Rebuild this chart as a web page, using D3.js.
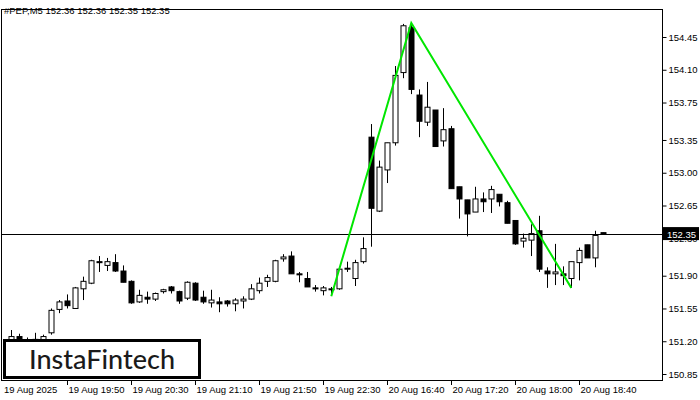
<!DOCTYPE html>
<html>
<head>
<meta charset="utf-8">
<script src="https://cdn.jsdelivr.net/npm/d3@7"></script>
<style>
  body { margin: 0; background: #fff; }
  svg { display: block; font-family: "Liberation Sans", Arial, sans-serif; }
</style>
</head>
<body>
<svg width="700" height="400"></svg>
<script>
// OHLC candles, M5
const opens  = [151.15,151.25,151.18,151.20,151.21,151.29,151.54,151.63,151.55,151.76,151.82,152.05,152.01,152.04,151.95,151.84,151.62,151.67,151.65,151.73,
                151.78,151.73,151.66,151.82,151.67,151.61,151.62,151.63,151.60,151.63,151.65,151.74,151.84,151.84,152.08,152.11,151.92,151.87,151.77,151.74,
                151.75,151.76,151.97,151.87,152.05,153.38,152.59,153.03,153.32,154.07,154.55,153.83,153.54,153.67,153.34,153.47,152.85,152.71,152.58,152.72,
                152.72,152.77,152.68,152.49,152.27,152.28,152.38,151.95,151.92,151.92,151.87,152.04,152.23,152.09,152.36]
const highs  = [151.32,151.28,151.24,151.29,151.27,151.55,151.64,151.70,151.78,151.89,152.07,152.11,152.09,152.13,152.01,151.85,151.75,151.73,151.72,151.76,
                151.79,151.74,151.84,151.83,151.74,151.75,151.67,151.64,151.66,151.68,151.81,151.88,151.91,152.07,152.13,152.16,151.94,151.94,151.80,151.79,
                151.78,151.98,152.05,152.07,152.31,153.52,153.13,153.32,154.14,154.59,154.60,153.89,153.97,153.67,153.69,153.50,152.85,152.71,152.85,152.79,
                152.86,152.77,152.70,152.49,152.35,152.45,152.54,151.99,152.24,152.00,152.05,152.20,152.23,152.38,152.36]
const lows   = [151.10,151.12,151.10,151.15,151.18,151.27,151.50,151.55,151.55,151.64,151.81,151.94,151.95,151.94,151.83,151.60,151.61,151.60,151.63,151.71,
                151.71,151.60,151.64,151.63,151.60,151.56,151.51,151.57,151.52,151.55,151.64,151.71,151.78,151.83,152.05,151.92,151.83,151.78,151.73,151.69,
                151.69,151.75,151.94,151.79,152.03,152.21,152.58,152.89,153.29,154.01,153.84,153.38,153.50,153.28,153.28,152.83,152.51,152.32,152.58,152.58,
                152.57,152.64,152.46,152.23,152.20,152.11,151.94,151.77,151.80,151.80,151.77,151.85,152.09,151.99,152.35]
const closes = [151.25,151.18,151.20,151.22,151.25,151.53,151.62,151.58,151.77,151.84,152.06,152.04,152.05,151.95,151.83,151.61,151.69,151.65,151.71,151.75,
                151.74,151.63,151.83,151.64,151.62,151.64,151.60,151.60,151.64,151.65,151.76,151.82,151.88,152.06,152.10,151.92,151.91,151.78,151.76,151.77,
                151.76,151.97,151.98,152.04,152.19,152.62,153.06,153.32,154.04,154.57,153.89,153.55,153.70,153.28,153.46,152.83,152.72,152.56,152.72,152.69,
                152.82,152.69,152.46,152.24,152.30,152.35,151.97,151.92,151.94,151.90,152.05,152.17,152.09,152.33,152.35]

// pattern: start, peak, end (candle index, price)
const patternIdx = [40, 50, 70]
const patternPrice = [151.68, 154.60, 151.77]

const yTicks = [154.45, 154.10, 153.75, 153.35, 153.00, 152.65, 152.30, 151.90, 151.55, 151.20, 150.85]
const timeTickIdx = [0, 7, 15, 23, 31, 39, 47, 55, 63, 71]
const timeLabels = ['19 Aug 2025', '19 Aug 19:50', '19 Aug 20:30', '19 Aug 21:10', '19 Aug 21:50',
                    '19 Aug 22:30', '20 Aug 16:40', '20 Aug 17:20', '20 Aug 18:00', '20 Aug 18:40']
const lastPrice = 152.35

const plotL = 1, plotR = 662, plotT = 9, plotB = 380
const FS = 9.5

const svg = d3.select('svg')
const data = opens.map((o, i) => ({ i, o, h: highs[i], l: lows[i], c: closes[i] }))

const x = d3.scaleLinear().domain([0, 1]).range([11.3, 19.3])
const y = d3.scaleLinear().domain([154.45, 150.85]).range([37, 374])

const plot = svg.append('g')

// candles
const g = plot.selectAll('g.c').data(data).enter().append('g')
g.append('line')
  .attr('x1', d => Math.round(x(d.i)) + 0.5).attr('x2', d => Math.round(x(d.i)) + 0.5)
  .attr('y1', d => y(d.h)).attr('y2', d => y(d.l))
  .attr('stroke', '#000').attr('stroke-width', 1)
g.append('rect')
  .attr('x', d => Math.round(x(d.i)) - 2)
  .attr('width', 5)
  .attr('y', d => y(Math.max(d.o, d.c)))
  .attr('height', d => Math.max(1, Math.abs(y(d.o) - y(d.c))))
  .attr('fill', d => d.c >= d.o ? '#fff' : '#000')
  .attr('stroke', '#000').attr('stroke-width', 1)

// current price line
plot.append('line')
  .attr('x1', plotL).attr('x2', plotR)
  .attr('y1', Math.round(y(lastPrice)) + 0.5).attr('y2', Math.round(y(lastPrice)) + 0.5)
  .attr('stroke', '#000')

// pattern lines
plot.append('path')
  .datum(patternIdx.map((d, i) => [x(d), y(patternPrice[i])]))
  .attr('d', d3.line())
  .attr('fill', 'none')
  .attr('stroke', '#00e600')
  .attr('stroke-width', 2)

// frame
svg.append('rect')
  .attr('x', plotL + 0.5).attr('y', plotT + 0.5)
  .attr('width', plotR - plotL).attr('height', plotB - plotT)
  .attr('fill', 'none').attr('stroke', '#000')

// right axis
const axisY = d3.axisRight(y).tickValues(yTicks).tickFormat(d3.format('.2f')).tickSize(4).tickPadding(2)
const ay = svg.append('g').attr('transform', `translate(${plotR + 0.5},0)`).call(axisY)
ay.select('.domain').remove()
ay.selectAll('text').attr('font-size', FS).attr('font-family', '"Liberation Sans", Arial, sans-serif').attr('fill', '#000')

// last price tag
svg.append('rect').attr('x', plotR + 1).attr('y', y(lastPrice) - 6.5).attr('width', 36).attr('height', 13).attr('fill', '#000')
svg.append('text').attr('x', plotR + 5).attr('y', y(lastPrice) + 4)
  .attr('font-size', FS).attr('fill', '#fff').text(lastPrice.toFixed(2))

// time axis
const ax = svg.append('g')
timeTickIdx.forEach((idx, i) => {
  const tx = i === 0 ? 2 : Math.round(x(idx)) + 0.5
  if (i > 0) ax.append('line').attr('x1', tx).attr('x2', tx).attr('y1', plotB).attr('y2', plotB + 5).attr('stroke', '#000')
  ax.append('text').attr('x', i === 0 ? 4 : tx + 1).attr('y', plotB + 13)
    .attr('font-size', FS).attr('fill', '#000').text(timeLabels[i])
})

// title
svg.append('text').attr('x', 4).attr('y', 14).attr('font-size', FS).attr('fill', '#000')
  .text('#PEP,M5  152.36 152.36 152.35 152.35')

// logo
svg.append('rect').attr('x', 4.5).attr('y', 340.5).attr('width', 195).attr('height', 37)
  .attr('fill', '#fff').attr('stroke', '#000').attr('stroke-width', 3)
svg.append('text').attr('x', 102).attr('y', 369).attr('text-anchor', 'middle')
  .attr('font-family', 'Lato, "Open Sans", sans-serif').attr('font-size', 27).attr('font-weight', 500)
  .attr('fill', '#1a1a1a').text('InstaFintech')
</script>
</body>
</html>
